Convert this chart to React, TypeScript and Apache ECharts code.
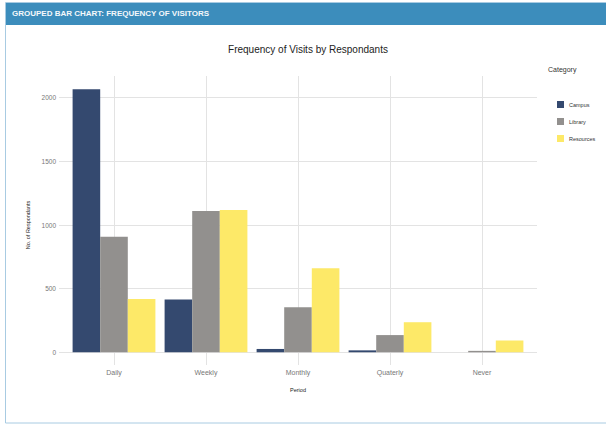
import React, { useEffect, useRef } from "react";
import * as echarts from "echarts";

// Visit frequency counts by period and category
const periods = ["Daily", "Weekly", "Monthly", "Quaterly", "Never"];
const campus = [2065, 415, 26, 15, 0];
const library = [908, 1110, 353, 135, 11];
const resources = [418, 1117, 660, 236, 92];
const yTicks = [0, 500, 1000, 1500, 2000];

const seriesNames = ["Campus", "Library", "Resources"];
const seriesData = [campus, library, resources];
const seriesColors = ["#34496f", "#92908e", "#fde968"];

const FONT = "'Liberation Sans', Arial, sans-serif";

export default function App() {
  const ref = useRef<HTMLDivElement>(null);

  useEffect(() => {
    if (!ref.current) return;
    const chart = echarts.init(ref.current, undefined, { renderer: "svg" });

    const option: any = {
      animation: false,
      backgroundColor: "#ffffff",
      graphic: [
        {
          type: "rect",
          shape: { x: 5.5, y: 2.5, width: 602, height: 420.5 },
          style: { fill: "none", stroke: "#a8cbe2", lineWidth: 1 },
          silent: true,
        },
        {
          type: "rect",
          shape: { x: 6, y: 3, width: 601, height: 22 },
          style: { fill: "#3c8dbc" },
          silent: true,
        },
        {
          type: "text",
          left: 12,
          top: 9,
          style: {
            text: "GROUPED BAR CHART: FREQUENCY OF VISITORS",
            fill: "#f4f8fb",
            font: "bold 8px 'Liberation Sans Narrow', 'Liberation Sans', Arial, sans-serif",
          },
        },
        {
          type: "text",
          x: 308,
          y: 49,
          style: {
            text: "Frequency of Visits by Respondants",
            fill: "#222",
            font: `10px ${FONT}`,
            align: "center",
            verticalAlign: "middle",
          },
        },
        {
          type: "text",
          left: 548,
          top: 66,
          style: { text: "Category", fill: "#333", font: `7px ${FONT}` },
        },
      ],
      legend: {
        data: seriesNames,
        orient: "vertical",
        left: 552,
        top: 96,
        itemWidth: 7,
        itemHeight: 7,
        itemGap: 10,
        icon: "rect",
        textStyle: { fontFamily: FONT, fontSize: 5.5, color: "#333" },
      },
      grid: [
        // horizontal gridlines and y labels
        { left: 59, right: 69, top: 97.7, bottom: 72.7 },
        // bars, category labels and vertical gridlines
        { left: 68, right: 78, top: 76, bottom: 60 },
      ],
      xAxis: [
        {
          gridIndex: 0,
          type: "value",
          min: 0,
          max: 1,
          show: false,
        },
        {
          gridIndex: 1,
          type: "category",
          data: periods,
          axisLine: { show: false },
          axisTick: { show: false },
          axisLabel: { fontFamily: FONT, fontSize: 7, color: "#777", margin: 4 },
          splitLine: { show: true, alignWithLabel: true, lineStyle: { color: "#e3e3e3", width: 1 } },
          name: "Period",
          nameLocation: "middle",
          nameGap: 22,
          nameTextStyle: { fontFamily: FONT, fontSize: 5.5, color: "#222" },
        },
      ],
      yAxis: [
        {
          gridIndex: 0,
          type: "value",
          min: yTicks[0],
          max: yTicks[yTicks.length - 1],
          interval: 500,
          axisLine: { show: false },
          axisTick: { show: false },
          axisLabel: {
            fontFamily: FONT,
            fontSize: 6.5,
            color: "#777",
            margin: 3,
            formatter: (v: number) => String(v),
          },
          splitLine: { show: true, lineStyle: { color: "#e3e3e3", width: 1 } },
          name: "No. of Respondants",
          nameLocation: "middle",
          nameGap: 20,
          nameRotate: 90,
          nameTextStyle: { fontFamily: FONT, fontSize: 5.5, color: "#222" },
        },
        {
          gridIndex: 1,
          type: "value",
          min: -100,
          max: 2170,
          show: false,
          splitLine: { show: false },
        },
      ],
      series: seriesNames.map((name, i) => ({
        name,
        type: "bar",
        xAxisIndex: 1,
        yAxisIndex: 1,
        data: seriesData[i],
        barGap: "0%",
        barCategoryGap: "10%",
        itemStyle: { color: seriesColors[i] },
      })),
    };

    chart.setOption(option);
    return () => chart.dispose();
  }, []);

  return (
    <div
      ref={ref}
      style={{ position: "absolute", left: 0, top: 0, width: 606, height: 425 }}
    />
  );
}
